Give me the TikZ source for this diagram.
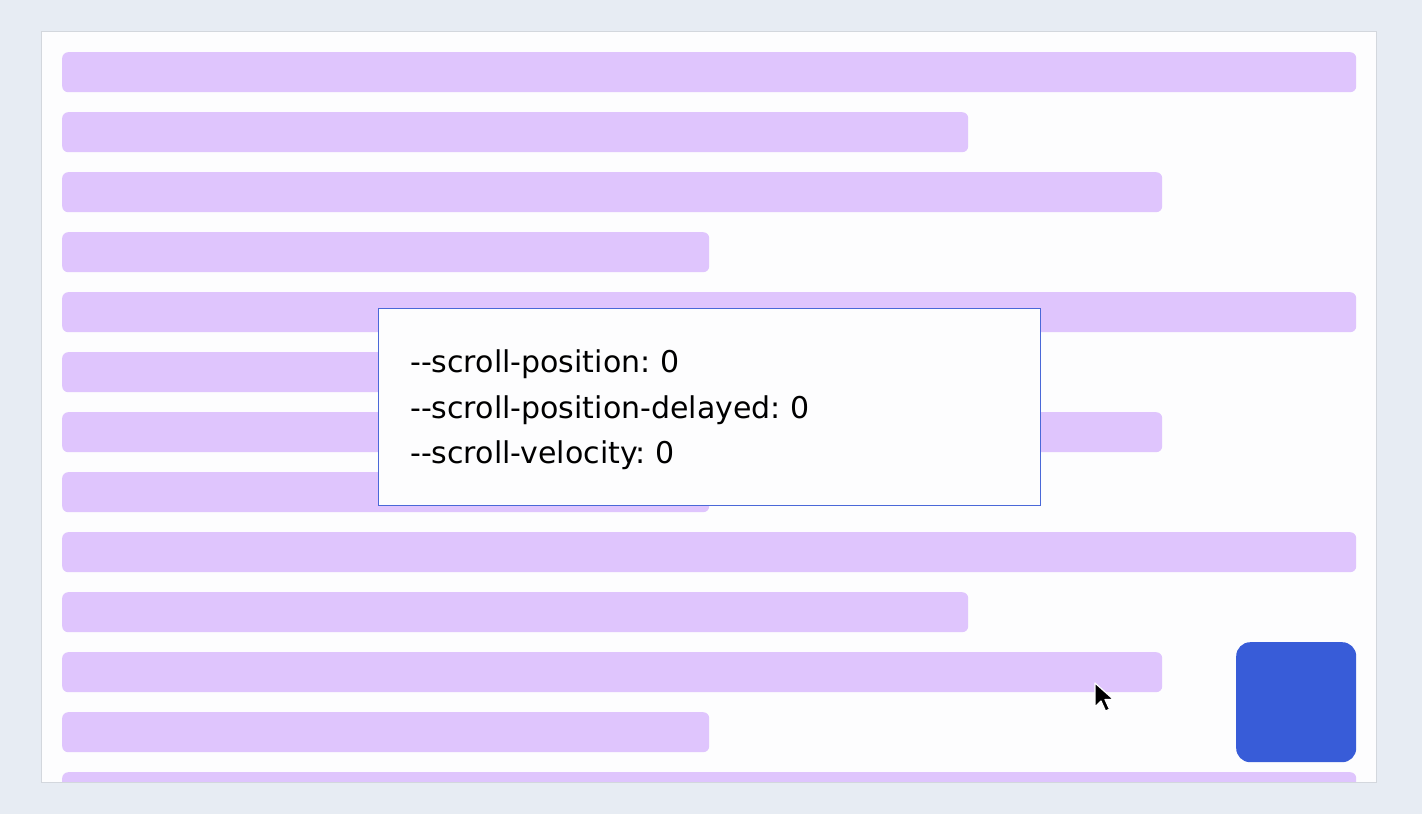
\documentclass[tikz,border=0pt]{standalone}
\usepackage{fontspec}
\setmainfont{DejaVu Sans}
\usetikzlibrary{positioning}
\frenchspacing

\definecolor{pagebg}{HTML}{E7ECF3}
\definecolor{panelbg}{HTML}{FDFDFE}
\definecolor{panelline}{HTML}{D3D7DD}
\definecolor{barpurple}{HTML}{DFC5FD}
\definecolor{boxblue}{HTML}{4A68D8}
\definecolor{knobblue}{HTML}{385CD8}

\tikzset{
    bar/.style={fill=barpurple, rounded corners=6pt, minimum height=40pt, inner sep=0pt, anchor=north west},
    varline/.style={anchor=base west, inner sep=0pt, font=\fontsize{30}{34}\selectfont}
}

\begin{document}
\begin{tikzpicture}[x=1pt, y=-1pt]
    \fill[pagebg] (0,0) rectangle (1422,814);
    \useasboundingbox (0,0) rectangle (1422,814);
    \fill[panelbg] (41,31) rectangle (1376,782);

    \begin{scope}
        \clip (41,31) rectangle (1376,782);
        \foreach \w [count=\i] in {1294,906,1100,647,1294,906,1100,647,1294,906,1100,647,1294} {
            \node[bar, minimum width=\w pt] (bar\i) at (62,{52+60*(\i-1)}) {};
        }
    \end{scope}
    \draw[panelline] (41,31) rectangle (1376,782);

    \node[draw=boxblue, line width=1.2pt, fill=panelbg, anchor=north west, minimum width=662pt, minimum height=197pt, inner sep=0pt] (varbox) at (378,308) {};
    \node[varline] (pos) at (410,372) {-{}-scroll-position: 0};
    \node[varline] (posdelayed) at (410,418) {-{}-scroll-position-delayed: 0};
    \node[varline] (velocity) at (410,463) {-{}-scroll-velocity: 0};

    \node[fill=knobblue, rounded corners=14pt, minimum size=120pt, inner sep=0pt, anchor=north west] (knob) at (1236,642) {};

    % mouse pointer
    \filldraw[fill=black, draw=white, line width=1.2pt, line join=round]
        (1095,683) -- ++(0,24) -- ++(6,-6) -- ++(4.5,10) -- ++(4,-1.8) -- ++(-4.5,-9.7) -- ++(8.5,0) -- cycle;
\end{tikzpicture}
\end{document}
